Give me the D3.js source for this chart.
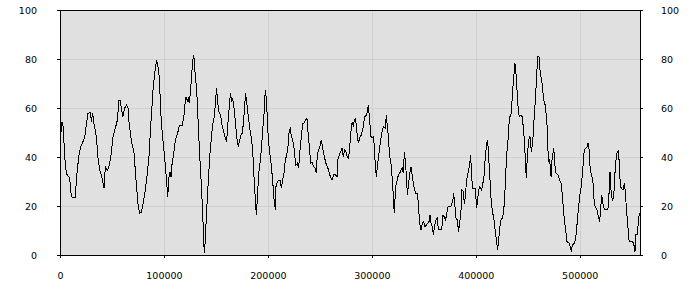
<!DOCTYPE html>
<html>
<head>
<meta charset="utf-8">
<script src="https://cdn.jsdelivr.net/npm/d3@7"></script>
<style>
  html, body { margin: 0; padding: 0; background: #ffffff; }
  svg { display: block; }
  text { font-family: "DejaVu Sans", sans-serif; font-size: 9.5px; fill: #000; }
</style>
</head>
<body>
<svg id="chart" width="700" height="300"></svg>
<script>
// ---- data ----
const xValues = [
  600, 1900, 3200, 4500, 6100, 9300, 10900, 12500, 14750, 15700, 18000, 19900, 22100, 23700, 25300, 26900,
  29500, 30100, 31400, 32700, 35000, 36600, 38200, 39800, 41400, 42300, 43600, 45500, 46800, 48700, 51000,
  53200, 55200, 56800, 58000, 59000, 60600, 62200, 63800, 65400, 66400, 68600, 71200, 73400, 75000, 76600,
  78200, 79900, 82100, 84000, 85600, 87200, 89500, 91100,
  93000, 94000, 95200, 96200, 97200, 98500, 100100, 101700, 102600, 103600, 104900, 105800, 106800, 107400,
  109000, 110600, 111600, 113200, 114500, 115400, 117700, 119300, 120900, 122500, 123500, 124400, 125400,
  126700, 128300, 129200, 129900, 131500, 132400, 133700, 135000, 136300, 137300, 138200, 138900, 139800,
  141100, 142700, 144300, 146600, 148500, 149800, 150700, 151700, 153000, 154600, 155500, 157100, 158700,
  160300, 161300, 162600, 163900, 165200, 166100, 167400, 168400, 170000, 171600, 172500, 174100, 175400,
  176700, 178000, 178600, 179900, 181200, 182800, 184400, 185700, 187000,
  188900, 190200, 191100, 192400, 193700, 195000, 196300, 197500, 198200, 199100, 200100, 201400, 203000,
  204600, 205600, 207200, 207800, 209100, 210400, 212000, 212900, 214200, 215500, 216800, 218100, 219300,
  220600, 221600, 222600, 223800, 224800, 225800, 227000, 228300, 229600, 230600, 232200, 233500, 234700,
  236000, 237600, 238600, 239900, 241200, 242400, 244000, 245600, 246600, 247600, 248900, 250500, 251400,
  252700, 254300, 255900, 257800, 260100, 261700, 263300, 264900, 266500, 267500, 268700, 270000, 271300,
  272600, 273900, 275100, 276400, 277700, 279000, 280300,
  281200, 282200, 283200, 284400, 285400, 287000, 288300, 289900, 291500, 293100, 294700, 296000, 296600,
  297900, 299200, 300500, 301800, 302700, 303700, 304300, 305600, 306900, 308500, 310100, 311400, 312700,
  314000, 314900, 315900, 317200, 318400, 319700, 320700, 321600, 322900, 324500, 325500, 326800, 328100,
  329300, 330300, 331300, 332500, 334200, 335100, 336400, 337700, 339000, 340600, 342200, 343800, 344700,
  346000, 347300, 348600, 349900, 351100, 352400, 353700, 355000, 356000, 357200, 358200, 359200, 360400,
  361700, 363000, 364000, 365300, 367200, 368500, 369700, 371000, 372000, 373300,
  374500, 376200, 377800, 378700, 379700, 381000, 382200, 383500, 384800, 386100, 386700, 388000, 389000,
  389900, 391200, 392500, 393800, 395100, 396000, 397000, 398300, 399600, 400800, 402100, 403400, 404700,
  405700, 406600, 407900, 409200, 410500, 411430, 412400, 413700, 415000, 416200, 417500, 418800, 420100,
  421050, 422000, 423300, 424600, 425900, 427500, 428400, 429700, 430700, 431600, 432900, 434200, 435500,
  436800, 437700, 438700, 439700, 440900, 441900, 443200, 444500, 445700, 446700, 447700, 448600, 449600,
  450600, 451500, 452500, 453400, 454700, 456000, 457300, 458600, 459500, 460800, 462100, 463400, 464700,
  465600, 466900,
  468500, 469200, 470400, 471100, 471700, 472400, 473300, 474300, 474900, 475900, 476500, 477500, 479100,
  480700, 482300, 483900, 485200, 486500, 487800, 489700, 491000, 491900, 492900, 495100, 496700, 498300,
  499900, 501500, 503100, 504400, 505700, 507000, 508000, 508900, 510200, 511500, 512800, 514100, 515300,
  516600, 517900, 519200, 520100, 521100, 522400, 523700, 525600, 527200, 528200, 529100, 530400, 531400,
  532700, 533900, 534900, 535900, 537100, 538100, 539100, 540400, 541600, 542900, 543900, 544800, 546100,
  547400, 548700, 550600, 551900, 553200, 554100, 555400, 556400, 557300
];
const yValues = [
  48.3, 54.4, 52, 40.1, 33.3, 31.4, 23.8, 23.3, 23.3, 30.6, 40.1, 44.2, 46.3, 47.8, 53, 57.8,
  58.1, 54.4, 58, 53.7, 48.3, 39.5, 34.7, 32.7, 29.3, 27.2, 36, 34.7, 35.4, 39.5, 48.3,
  51.7, 55.1, 63.3, 63, 59.9, 56.5, 59.9, 61.2, 60, 54.4, 46.9, 41.5, 29.3, 21.1, 17,
  17.5, 21, 26.5, 33.3, 40, 52.4, 67.3, 74.1,
  79.6, 77.6, 74, 66, 56.5, 49, 42.2, 34.7, 29.9, 23.8, 32, 34, 32, 36,
  40.1, 45.6, 47.8, 49.7, 52.4, 53, 53, 57.1, 64.6, 63, 64, 61.9, 66,
  74, 81.6, 79.6, 74.8, 67.3, 59.2, 46.9, 36, 25.9, 17, 6.1, 0.7, 6,
  18.4, 30.6, 41.5, 52.4, 56.5, 64, 68, 62, 58.5, 57, 53.7, 51, 48.3,
  46.3, 52.4, 59.2, 66, 63, 64, 60, 55.8, 48.3, 44.2, 46.3, 49, 49.7,
  55, 63, 66, 61.2, 56.5, 51, 47, 40.1, 29,
  16.3, 25.2, 33.3, 37.4, 42.9, 51, 57.8, 67.3, 65, 59.2, 49.7, 42.9, 37.4,
  30.6, 23.8, 18.4, 27.9, 30, 30.6, 30.6, 27.2, 30.6, 33.3, 38.8, 40.8, 44.2,
  51, 51.7, 48.3, 47, 45, 40.8, 36.7, 37.4, 35.4, 41.5, 48.3, 53.7, 53.7,
  55, 55.8, 50.3, 44.2, 37.4, 37.9, 36, 35.4, 33.3, 41.5, 42.9, 45, 47,
  43.5, 40.1, 37.4, 35.4, 32, 30.6, 32.7, 32.7, 32, 39.5, 40.8, 42.2, 43.5,
  40.1, 42.9, 42.2, 40.1, 39.5, 45.6, 52.4,
  54.4, 52.4, 55, 55.8, 51, 45.6, 47.8, 49, 51.7, 56.5, 57, 59.2, 61.2,
  55, 48.3, 47.8, 48.3, 40.8, 35.4, 32, 37.4, 41.5, 47, 51, 52.4, 51.7,
  57, 52.4, 48.3, 40.1, 37.4, 30.6, 23.8, 17, 27.9, 30.6, 32.7, 33.3, 34.7,
  35.4, 33.3, 42.2, 37.4, 24.5, 27.9, 33.3, 36, 32, 27.9, 25.2, 25.2, 21.1,
  13, 10.3, 13, 13.6, 11.6, 12.2, 13, 13.6, 16.3, 12.2, 11.6, 8.2, 12.2,
  14.3, 15, 10.3, 10.3, 10.3, 16.3, 15.6, 14.3, 17, 19.7,
  20, 20, 21.8, 25.2, 21, 15, 14.3, 9.5, 14.3, 19.7, 26.5, 26, 21,
  23.8, 30.6, 33.3, 36, 40.8, 32, 27.2, 27.2, 27.2, 19, 23.8, 27.9, 27.2,
  26.5, 28.6, 32, 40.1, 45.6, 47, 40.1, 30.6, 21, 17.5, 14.3, 9.5, 5.4,
  2, 6.1, 11.6, 15, 15, 21, 28.6, 41.5, 44.2, 52.4, 56.5, 57.8, 67.3,
  74.1, 78.2, 74, 67.3, 59.2, 56.5, 57, 56.5, 52.4, 47, 38.8, 31.3, 40.1,
  45.6, 48.3, 47.8, 42.2, 45.6, 55, 63, 73.3, 80.9, 81, 74, 71.4, 66,
  63, 61,
  53.7, 44.2, 38, 39, 35.4, 32, 38.8, 41.5, 43.5, 39.5, 34, 33.3, 32.7,
  30.6, 29.3, 21, 14.3, 10.3, 5.4, 4.8, 3.4, 1.4, 4.1, 4.8, 8.8, 17,
  23.8, 27.9, 36, 42.9, 43.5, 44.2, 45.6, 43.5, 34, 32.7, 29.3, 20.4, 19.7,
  18.4, 15.6, 13.6, 18.4, 24.5, 21, 18.4, 18.4, 19, 25.2, 34, 24.5, 22.4,
  23.8, 33.3, 38.8, 41.5, 42.9, 37.4, 27.9, 27.2, 26.5, 29.3, 26, 19.7, 13,
  6.1, 5.4, 5.4, 4.8, 1.4, 8.2, 8.2, 13.6, 17
];
const xTicks = [0, 100000, 200000, 300000, 400000, 500000];
const yTicks = [0, 20, 40, 60, 80, 100];
const xMax = 558000;

// ---- layout ----
const W = 700, H = 300;
const margin = { left: 60, right: 60, top: 10, bottom: 45 };
const svg = d3.select("#chart");
const x = d3.scaleLinear().domain([0, xMax]).range([margin.left, W - margin.right]);
const y = d3.scaleLinear().domain([0, 100]).range([H - margin.bottom, margin.top]);

// background
svg.append("rect")
  .attr("x", x(0)).attr("y", y(100))
  .attr("width", x(xMax) - x(0)).attr("height", y(0) - y(100))
  .attr("fill", "#e0e0e0");

// grid
const grid = svg.append("g").attr("shape-rendering", "crispEdges");
grid.selectAll(".gx").data(xTicks.filter(d => d > 0)).enter().append("line")
  .attr("x1", d => Math.round(x(d)) + 0.5).attr("x2", d => Math.round(x(d)) + 0.5)
  .attr("y1", y(100)).attr("y2", y(0))
  .attr("stroke", "#d0d0d0").attr("stroke-width", 1);
grid.selectAll(".gy").data(yTicks.filter(d => d > 0 && d < 100)).enter().append("line")
  .attr("x1", x(0)).attr("x2", x(xMax))
  .attr("y1", d => Math.round(y(d)) + 0.5).attr("y2", d => Math.round(y(d)) + 0.5)
  .attr("stroke", "#d0d0d0").attr("stroke-width", 1);

// line
const data = xValues.map((v, i) => [v, yValues[i]]);
svg.append("path")
  .datum(data)
  .attr("fill", "none")
  .attr("stroke", "#000")
  .attr("stroke-width", 1)
  .attr("shape-rendering", "crispEdges")
  .attr("d", d3.line().x(d => x(d[0])).y(d => y(d[1])));

// frame top
svg.append("line")
  .attr("x1", x(0)).attr("x2", x(xMax))
  .attr("y1", y(100)).attr("y2", y(100))
  .attr("stroke", "#000").attr("shape-rendering", "crispEdges");

// axes
const fmt = d3.format("d");
const axB = svg.append("g").attr("transform", `translate(0,${y(0)})`)
  .call(d3.axisBottom(x).tickValues(xTicks).tickFormat(fmt).tickSize(3).tickPadding(14).tickSizeOuter(0));
const axL = svg.append("g").attr("transform", `translate(${x(0)},0)`)
  .call(d3.axisLeft(y).tickValues(yTicks).tickFormat(fmt).tickSize(3).tickPadding(20).tickSizeOuter(0));
const axR = svg.append("g").attr("transform", `translate(${x(xMax)},0)`)
  .call(d3.axisRight(y).tickValues(yTicks).tickFormat(fmt).tickSize(3).tickPadding(18).tickSizeOuter(0));
[axB, axL, axR].forEach(a => {
  a.attr("shape-rendering", "crispEdges");
  a.selectAll("path, line").attr("stroke", "#000");
  a.selectAll("text").attr("font-family", "DejaVu Sans, sans-serif").attr("font-size", "9.5px").attr("fill", "#000");
});
</script>
</body>
</html>
